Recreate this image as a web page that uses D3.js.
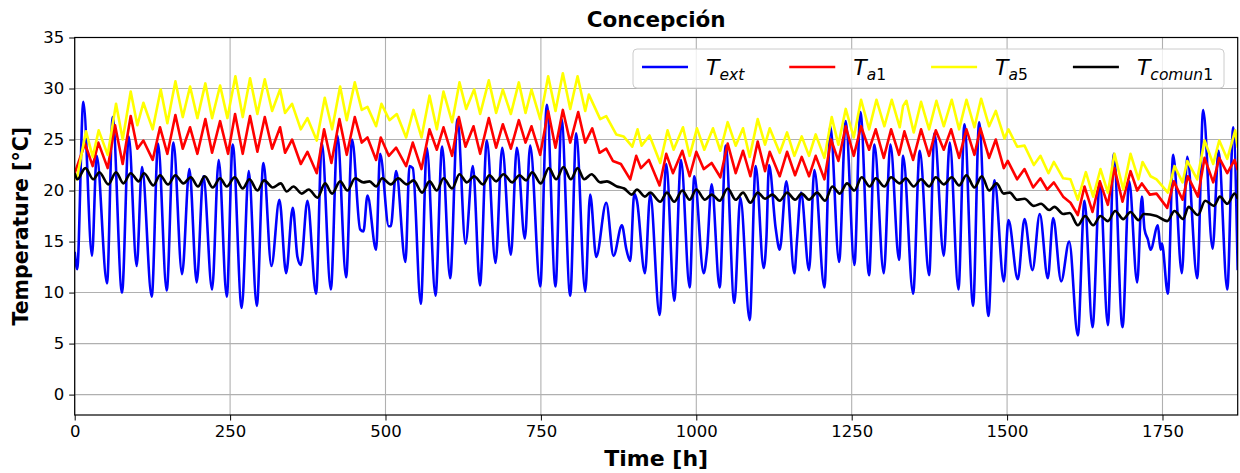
<!DOCTYPE html>
<html>
<head>
<meta charset="utf-8">
<script src="https://cdn.jsdelivr.net/npm/d3@7"></script>
<style>
  body { margin: 0; background: #fff; }
  svg { font-family: "DejaVu Sans", sans-serif; }
</style>
</head>
<body>
<svg id="chart" width="1240" height="473"></svg>
<script>
// values: [hour, temperature] at daily highs/lows
const tExt = [[0,14.0],[4,12.3],[13.9,28.7],[27.8,13.6],[35.4,23.4],[52,10.9],[61.1,27.2],[76.1,10.0],[86.9,25.3],[99.7,12.6],[108.3,22.3],[123.9,9.6],[134.1,24.6],[148,10.2],[158.8,24.7],[172.7,11.8],[184.5,22.1],[196.3,11.0],[207,21.4],[221,10.3],[231.7,23.0],[244.6,9.6],[254.2,24.5],[268.7,8.5],[280,21.9],[292.9,8.7],[303.6,22.7],[316.5,12.6],
  [329.3,19.1],[340.1,11.9],[350.8,18.3],[358.3,13.5],[363.7,12.7],[374.4,19.0],[388.3,9.9],[397.5,24.7],[412,10.3],[422.7,25.4],[436.6,11.5],[446.3,25.0],[459.2,16.2],[464.5,16.0],[471,19.5],[484.9,14.2],[491.3,23.6],[505.3,16.5],[508.5,16.5],[517.1,21.9],[532.1,13.0],[538.6,22.4],[543.9,22.2],[556.8,8.9],[566.5,24.2],[580.4,9.7],[591.1,24.3],[604,11.4],[615.8,27.0],[628.7,14.8],[640.5,22.4],[652,10.7],
  [663,24.9],[677,12.9],[687.7,24.2],[701.7,13.7],[711.3,24.2],[724.2,15.3],[732.8,24.4],[748.9,10.6],[759.6,28.4],[773.5,10.6],[783.2,27.0],[797.2,9.7],[806.8,25.6],[821.3,10.1],[829.3,19.6],[839,13.5],[855.1,18.8],[866.9,13.6],[880.3,16.6],[887.3,14.3],[893.7,13.1],[900.2,19.7],[904.5,19.0],[917.3,11.9],[925.9,19.6],[940.9,7.8],[951.7,22.6],[964.5,9.2],
  [975.4,23.0],[989.3,10.5],[996.8,21.4],[1011.9,11.9],[1017.2,14.0],[1024.7,20.6],[1037.6,10.5],[1047.3,24.4],[1061.2,9.0],[1070.9,19.3],[1085.9,7.3],[1095.5,22.4],[1108.4,12.4],[1112.7,15.2],[1117,22.5],[1127.7,16.3],[1134.2,14.2],[1144.9,20.9],[1157.8,11.9],[1162.1,15.2],[1168.5,19.8],[1181.4,12.2],[1190,22.0],[1206.1,10.5],[1215.7,26.3],[1229.7,13.0],[1240.4,26.8],[1254.3,12.7],[1264,27.7],[1278,11.7],[1286.5,24.5],
  [1301.6,11.9],[1312.3,24.5],[1326.2,13.2],[1332.7,23.4],[1348.8,9.9],[1359.5,23.9],[1374.5,11.7],[1383.1,25.6],[1398.1,13.6],[1407.8,24.7],[1421.7,10.3],[1431.4,26.5],[1445.3,8.7],[1455,26.7],[1470,7.7],[1479.7,21.0],[1494.7,11.1],[1502.2,17.1],[1517.2,11.3],[1528,17.2],[1540.8,12.2],[1552.6,17.7],[1565.5,11.4],[1574.1,17.3],[1587,11.1],[1599.9,15.0],[1613.8,5.8],
  [1624.5,19.0],[1637.4,6.6],[1649.2,20.9],[1662.1,6.8],[1671.7,23.6],[1685.7,6.6],[1696.4,20.9],[1709.3,11.0],[1716.8,19.4],[1721.1,16.2],[1726.5,15.2],[1730.8,14.2],[1742.6,16.6],[1746.9,14.2],[1749,14.8],[1758.7,9.9],[1767.2,23.5],[1781.2,11.9],[1789.8,23.3],[1805.9,11.4],[1815.5,27.9],[1830.6,14.3],[1840.2,23.9],[1854.2,10.3],[1863.8,26.2],[1871,12.2]];

const tA1 = [[0,21.7],[16.6,24.6],[29,22.4],[38,24.7],[53.1,22.2],[64.9,26.4],[77.2,22.6],[90.1,27.3],[100.8,24.1],[110.5,24.9],[125.5,23.0],[137.3,26.2],[149.1,23.6],[162,27.4],[173.8,24.1],[185.6,26.2],[197.4,23.6],[210.2,27.0],[221,23.7],[233.9,26.8],[246.7,23.6],[258,27.5],[270.3,23.6],[282.1,27.3],[293.9,23.8],[305.8,27.2],[317.6,24.1],
  [330.4,26.2],[338.4,23.7],[349.7,25.0],[363.7,22.6],[374.4,23.8],[389.4,21.7],[401.2,26.0],[413,22.7],[425.9,27.0],[437.7,23.5],[450.6,27.2],[461.8,24.7],[471,25.2],[484.9,23.0],[492.4,25.2],[505.3,23.4],[517.1,24.2],[533.2,22.4],[543.9,24.7],[557.9,22.1],[570.8,26.0],[582.6,24.0],[593.3,26.2],[607.2,23.4],[618,27.2],[628.7,24.3],[641.6,26.3],[652.3,23.6],
  [666.2,27.1],[678,24.2],[688.8,26.5],[701.7,24.1],[714.5,26.9],[725.3,24.7],[734.9,26.3],[748.9,23.5],[761.7,27.8],[773.5,24.2],[785.3,27.9],[797.2,24.7],[810,27.7],[821.3,24.7],[832.6,26.1],[844.4,23.7],[855.1,24.1],[865.8,22.9],[878.7,22.6],[893.7,21.1],[903.4,23.4],[910.9,22.2],[923.8,23.0],[940.9,20.5],[951.7,23.6],[962.4,21.7],
  [977.5,23.9],[989.3,21.4],[1000,23.8],[1011.9,22.1],[1024.7,22.7],[1038.7,21.3],[1050.5,24.6],[1063.4,21.7],[1075.2,23.9],[1087,21.4],[1098.8,24.8],[1110.6,21.9],[1118.1,23.8],[1134.2,21.4],[1146,23.8],[1158.9,21.5],[1169.6,23.3],[1181.4,21.4],[1192.1,23.4],[1206.1,21.1],[1216.8,25.0],[1228.6,22.9],[1240.4,26.3],[1253.3,23.4],[1265.1,26.3],[1278,24.0],
  [1288.7,26.0],[1301.6,23.2],[1313.4,26.0],[1326.2,23.5],[1334.8,25.8],[1348.8,23.0],[1361.6,26.0],[1374.5,23.4],[1385.3,25.9],[1398.1,24.0],[1409.9,26.0],[1422.8,23.2],[1434.6,26.0],[1447.5,23.5],[1457.1,26.1],[1471.1,23.2],[1481.8,25.0],[1494.7,22.2],[1501.1,22.9],[1516.2,21.1],[1528,22.1],[1541.9,20.3],[1553.7,21.2],[1564.4,20.1],[1575.2,20.8],[1590.2,19.4],[1602,18.8],
  [1613.8,17.6],[1624.5,20.4],[1637.4,17.9],[1649.2,20.9],[1662.1,18.6],[1672.8,22.2],[1685.7,18.9],[1698.6,21.9],[1709.3,20.0],[1716.8,20.7],[1729.7,19.6],[1740.4,19.7],[1757.6,18.3],[1768.3,20.9],[1782.3,19.1],[1790.8,21.4],[1807,19.4],[1817.7,23.2],[1831.6,20.8],[1841.3,23.2],[1854.2,21.7],[1866,23.0],[1871,22.0]];

const tA5 = [[0,21.6],[3.2,21.1],[18.2,25.8],[29,23.3],[38.6,25.9],[53.1,23.5],[66.5,28.5],[77.2,25.0],[90.1,29.7],[100.8,26.4],[110.5,28.6],[125.5,26.0],[138.4,29.9],[149.1,26.6],[162,30.7],[173.8,27.2],[185.6,30.2],[197.4,27.1],[210.2,30.5],[221,27.1],[233.9,30.3],[245.7,27.1],[258.5,31.2],[270.3,27.2],[282.1,31.0],[293.9,27.5],[305.8,30.9],[317.6,27.8],
  [330.4,29.9],[338.4,27.6],[349.7,28.5],[363.7,26.0],[374.4,27.1],[389.4,24.9],[402.3,29.1],[414.1,26.0],[427,30.2],[437.7,26.9],[450.6,30.6],[461.8,27.9],[471,28.2],[484.9,26.3],[493.5,28.5],[506.4,26.9],[518.2,27.5],[533.2,25.2],[545,27.9],[557.9,25.2],[570.8,29.3],[582.6,26.0],[593.3,29.7],[607.2,26.7],[619,30.6],[629.8,28.0],[642.6,29.9],[652.3,27.5],
  [666.2,30.8],[678,27.6],[688.8,29.9],[701.7,27.5],[714.5,30.6],[725.3,27.6],[734.9,29.9],[748.9,27.0],[761.7,31.2],[773.5,27.8],[785.3,31.5],[797.2,28.0],[809,31.2],[821.3,27.8],[827.2,29.4],[845.4,27.0],[855.1,27.3],[871.2,25.5],[883,25.3],[897,24.3],[905.5,26.0],[912,24.4],[924.8,25.4],[942,22.7],[953.8,25.9],[963.5,24.0],
  [978.6,26.2],[989.3,23.4],[1001.1,26.1],[1012.9,24.0],[1026.9,26.1],[1038.7,23.9],[1050.5,26.7],[1063.4,24.4],[1075.2,26.1],[1085.9,23.3],[1098.8,27.0],[1110.6,24.5],[1118.1,26.1],[1134.2,23.7],[1146,25.7],[1157.8,23.4],[1169.6,25.3],[1181.4,23.4],[1192.1,25.5],[1206.1,23.2],[1217.9,27.2],[1228.6,24.5],[1240.4,28.0],[1253.3,25.2],[1265.1,28.9],[1278,26.0],
  [1289.8,28.9],[1302.6,26.3],[1314.4,28.9],[1327.3,26.2],[1332.7,28.3],[1338,28.8],[1349.8,25.7],[1361.6,28.7],[1374.5,26.0],[1386.3,28.8],[1398.1,26.3],[1411,28.9],[1422.8,26.0],[1434.6,28.9],[1447.5,26.2],[1458.2,29.0],[1471.1,26.3],[1481.8,27.8],[1495.8,25.1],[1502.2,26.0],[1516.2,24.3],[1528,24.4],[1543,22.5],[1553.7,23.4],[1566.6,21.7],[1575.2,22.8],[1590.2,21.2],[1602,21.1],
  [1613.8,19.1],[1626.7,21.8],[1638.5,19.4],[1650.3,22.1],[1662.1,19.8],[1672.8,23.6],[1686.8,20.1],[1698.6,23.6],[1711.4,21.1],[1717.9,22.8],[1730.8,21.4],[1740.4,21.1],[1758.7,19.8],[1769.4,22.4],[1782.3,20.8],[1789.8,22.9],[1805.9,21.1],[1817.7,24.9],[1831.6,22.6],[1841.3,24.9],[1854.2,23.1],[1867,25.9],[1871,24.2]];

const tComun1 = [[0,21.7],[4.2,21.1],[17.1,22.2],[30,21.1],[39.6,21.8],[54.1,20.6],[66.5,21.8],[78.3,20.7],[90.1,21.7],[103,20.9],[111.5,21.7],[126.6,20.5],[137.3,21.5],[150.2,20.6],[162,21.5],[174.8,20.7],[186.7,21.3],[198.4,20.4],[209.2,21.4],[222,20.3],[233.9,21.2],[244.6,20.4],[257.5,21.3],[270.3,20.2],[281.1,21.1],[293.9,20.0],[304.7,21.0],[318.6,20.3],
  [331.5,20.7],[341.1,19.9],[351.9,20.4],[365.3,19.7],[376.5,20.1],[390.5,19.3],[402.8,20.7],[414.1,19.7],[427,20.9],[438.8,20.0],[451.1,21.2],[464.5,20.8],[474.2,20.9],[484.9,20.4],[494.6,21.2],[508.5,20.6],[520.3,21.2],[534.3,20.6],[545,21.0],[558.9,19.8],[570.8,20.9],[582.6,20.0],[593.3,21.2],[607.2,20.2],[619,21.6],[630.9,20.8],[642.6,21.4],
  [656.6,20.6],[667.3,21.5],[678,20.9],[689.9,21.6],[703.8,20.8],[715.6,21.5],[726.3,21.0],[736,21.8],[749.9,20.7],[762.8,22.2],[774.6,21.1],[786.4,22.3],[798.2,21.1],[809,22.2],[819.7,21.1],[831.5,21.6],[845.4,20.8],[856.2,20.9],[872.3,20.4],[884,20.2],[896.4,19.6],[904.5,20.1],[917.3,19.4],[925.9,19.8],[942,18.9],[952.7,19.8],[964.5,18.9],
  [977.5,20.0],[989.3,19.1],[1000,20.1],[1014,19.1],[1024.7,19.6],[1037.6,19.0],[1050.5,20.2],[1063.4,19.1],[1075.2,19.8],[1087,18.8],[1098.8,19.8],[1110.6,19.2],[1122.4,19.6],[1134.2,19.0],[1146,19.8],[1158.9,19.1],[1169.6,19.7],[1181.4,19.1],[1194.3,19.8],[1207.1,19.0],[1218.9,20.4],[1230.7,19.7],[1242.5,20.7],[1254.3,20.0],[1266.1,21.3],[1279,20.4],
  [1288.7,21.2],[1302.6,20.4],[1313.4,21.3],[1327.3,20.7],[1337,21.2],[1349.8,20.4],[1361.6,21.1],[1374.5,20.4],[1385.3,21.3],[1398.1,20.6],[1411,21.3],[1422.8,20.5],[1434.6,21.5],[1447.5,20.3],[1459.3,21.4],[1471.1,20.0],[1482.9,20.7],[1494.7,19.7],[1504.4,19.8],[1516.2,19.1],[1528,19.2],[1543,18.5],[1554.7,18.7],[1567.6,18.1],[1576.2,18.4],[1590.2,17.7],[1600.8,17.8],
  [1613.8,16.6],[1625.6,17.5],[1638.5,16.6],[1650.3,17.5],[1662.1,17.0],[1673.9,18.0],[1686.8,17.2],[1698.6,17.9],[1711.4,17.1],[1720,17.7],[1740.4,17.5],[1757.6,17.0],[1769.4,18.0],[1783.3,17.2],[1791.9,18.4],[1807,17.6],[1818.7,19.0],[1832.7,18.5],[1842.4,19.4],[1854.2,18.7],[1866,19.7],[1871,19.2]];

const xTicks = [0, 250, 500, 750, 1000, 1250, 1500, 1750];
const yTicks = [0, 5, 10, 15, 20, 25, 30, 35];

// red and yellow have pointed daily peaks, so they are drawn straight between extremes
const series = [
    {name: "ext", data: tExt, color: "#0000ff", curve: d3.curveMonotoneX},
    {name: "a1", data: tA1, color: "#ff0000", curve: d3.curveLinear},
    {name: "a5", data: tA5, color: "#ffff00", curve: d3.curveLinear},
    {name: "comun1", data: tComun1, color: "#000000", curve: d3.curveMonotoneX}
];

const W = 1240, H = 473;
const margin = {top: 37.5, right: 2.3, bottom: 58, left: 74.7};
const width = W - margin.left - margin.right,
      height = H - margin.top - margin.bottom;

const svg = d3.select("#chart");
const g = svg.append("g")
    .attr("transform", "translate(" + margin.left + "," + margin.top + ")");

const x = d3.scaleLinear().domain([0, 1871]).range([0, width]);
const y = d3.scaleLinear().domain([-2, 35]).range([height, 0]);

// grid
g.append("g").selectAll("line").data(xTicks).join("line")
    .attr("x1", d => x(d)).attr("x2", d => x(d))
    .attr("y1", 0).attr("y2", height)
    .attr("stroke", "#b0b0b0").attr("stroke-width", 1.1);
g.append("g").selectAll("line").data(yTicks).join("line")
    .attr("x1", 0).attr("x2", width)
    .attr("y1", d => y(d)).attr("y2", d => y(d))
    .attr("stroke", "#b0b0b0").attr("stroke-width", 1.1);

// series
g.append("clipPath").attr("id", "plotclip")
    .append("rect").attr("width", width).attr("height", height);

g.append("g").attr("clip-path", "url(#plotclip)")
    .selectAll("path").data(series).join("path")
    .attr("d", d => d3.line().x(p => x(p[0])).y(p => y(p[1])).curve(d.curve)(d.data))
    .attr("fill", "none")
    .attr("stroke", d => d.color)
    .attr("stroke-width", 2.6)
    .attr("stroke-linejoin", "round");

// axes
const xAxis = g.append("g")
    .attr("transform", "translate(0," + height + ")")
    .call(d3.axisBottom(x).tickValues(xTicks).tickFormat(d3.format("d")).tickSize(5.5).tickPadding(5));
const yAxis = g.append("g")
    .call(d3.axisLeft(y).tickValues(yTicks).tickFormat(d3.format("d")).tickSize(5.5).tickPadding(5));
[xAxis, yAxis].forEach(a => {
    a.select(".domain").remove();
    a.selectAll(".tick line").attr("stroke", "#000").attr("stroke-width", 1);
    a.selectAll(".tick text")
        .attr("font-family", "DejaVu Sans")
        .attr("font-size", "16.5px")
        .attr("fill", "#000");
});

// frame
g.append("rect")
    .attr("width", width).attr("height", height)
    .attr("fill", "none").attr("stroke", "#000").attr("stroke-width", 1.2);

// title and labels
svg.append("text")
    .attr("x", margin.left + width / 2).attr("y", 26.5)
    .attr("text-anchor", "middle")
    .attr("font-size", "21.5px").attr("font-weight", "bold")
    .text("Concepción");
svg.append("text")
    .attr("x", margin.left + width / 2).attr("y", 466)
    .attr("text-anchor", "middle")
    .attr("font-size", "22px").attr("font-weight", "bold")
    .text("Time [h]");
svg.append("text")
    .attr("transform", "translate(27.5," + (margin.top + height / 2) + ") rotate(-90)")
    .attr("text-anchor", "middle")
    .attr("font-size", "20.5px").attr("font-weight", "bold")
    .text("Temperature [°C]");

// legend
const legend = svg.append("g");
const legendBox = legend.append("rect")
    .attr("y", 49).attr("height", 39)
    .attr("rx", 4)
    .attr("fill", "#fff").attr("fill-opacity", 0.8)
    .attr("stroke", "#cccccc").attr("stroke-width", 1);

let lx = 642;
const legendStart = lx - 9;
series.forEach(s => {
    legend.append("line")
        .attr("x1", lx).attr("x2", lx + 46)
        .attr("y1", 67).attr("y2", 67)
        .attr("stroke", s.color).attr("stroke-width", 2.6);
    const t = legend.append("text")
        .attr("x", lx + 64).attr("y", 75)
        .attr("font-size", "22px");
    t.append("tspan").attr("font-style", "italic").text("T");
    // letters in italic, digits upright, like mathtext
    const m = s.name.match(/^([a-z]*)(\d*)$/);
    t.append("tspan").attr("font-style", "italic").attr("font-size", "15.5px")
        .attr("dy", 4.5).text(m[1]);
    if (m[2]) t.append("tspan").attr("font-size", "15.5px").text(m[2]);
    lx = lx + 64 + t.node().getComputedTextLength() + 45;
});
legendBox.attr("x", legendStart).attr("width", lx - 45 + 11 - legendStart);
</script>
</body>
</html>
